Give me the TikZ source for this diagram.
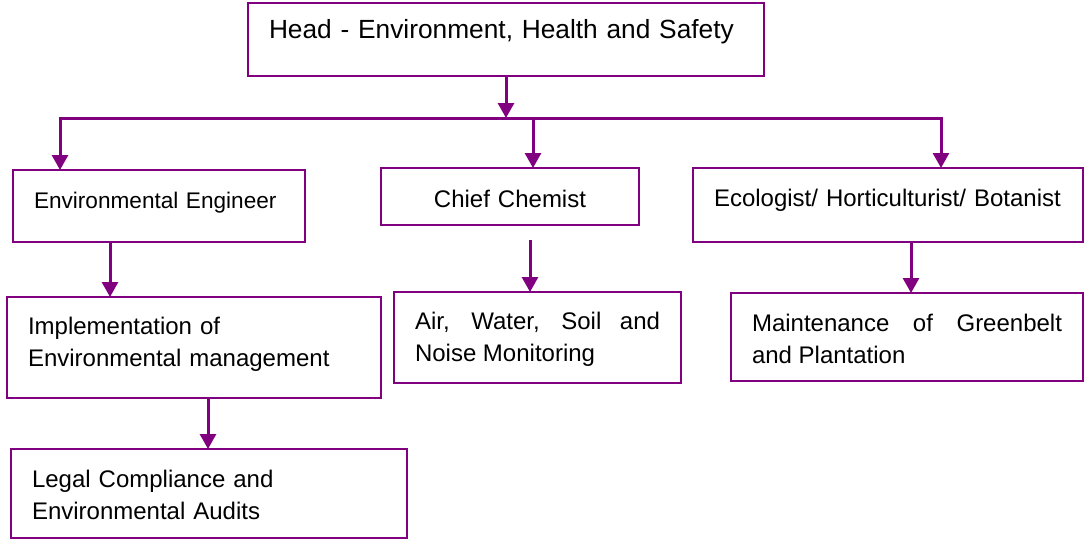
\documentclass[tikz,border=0pt]{standalone}
\usepackage{fontspec}
\setmainfont{Liberation Sans}
\usepackage{tikz}
\usetikzlibrary{calc}
\usetikzlibrary{arrows.meta}
\usepackage{xcolor}
\definecolor{chartPurple}{HTML}{800080}
\tikzset{
  orgbox/.style={draw=chartPurple, line width=2pt, fill=white,
    inner xsep=21pt, inner ysep=0pt, outer sep=0pt,
    anchor=north west, align=left,
    font=\fontsize{24}{32}\selectfont},
  link/.style={draw=chartPurple, line width=3pt,
    -{Triangle[width=16pt,length=15pt]}},
}

\begin{document}
\begin{tikzpicture}[x=1pt,y=-1pt]

%%%%%%%%%%%%%%%%%%%%%%%%%%%%%%%%%%%%%%%%%%%%%%%%%%%%%%%%%%%%%% Setup
\coordinate (C) at (0, 0);
% just to keep the page as large as the chart
\useasboundingbox ($(C)+(0,0)$) rectangle ($(C)+(1084,543)$);

%%%%%%%%%%%%%%%%%%%%%%%%%%%%%%%%%%%%%%%%%%%%%%%%%%%%%%%%%%%%%% Head
\node[orgbox, text width=474pt, text height=36pt, text depth=37pt,
  font=\fontsize{26.3}{32}\selectfont] (head) at ($(C)+(248,3)$)
  {Head - Environment, Health and Safety};

%%%%%%%%%%%%%%%%%%%%%%%%%%%%%%%%%%%%%%%%%%%%%%%%%%%%%%%%%%%%%% Row-1
\node[orgbox, text width=250pt, text height=38pt, text depth=34pt,
  font=\fontsize{22.6}{32}\selectfont] (eng) at ($(C)+(13,170)$)
  {Environmental Engineer};
\node[orgbox, text width=216pt, text height=39pt, text depth=18pt,
  align=center] (chief) at ($(C)+(381,168)$)
  {Chief Chemist};
\node[orgbox, text width=348pt, text height=38pt, text depth=36pt]
  (eco) at ($(C)+(693,168)$)
  {\mbox{Ecologist/ Horticulturist/ Botanist}};

%%%%%%%%%%%%%%%%%%%%%%%%%%%%%%%%%%%%%%%%%%%%%%%%%%%%%%%%%%%%%% Row-2
\node[orgbox, text width=332pt, text height=37pt, text depth=64pt] (impl)
  at ($(C)+(7,297)$)
  {Implementation of\\Environmental management};
\node[orgbox, text width=245pt, text height=37pt, text depth=54pt,
  align=justify] (air) at ($(C)+(394,292)$)
  {Air, Water, Soil and\linebreak Noise Monitoring};
\node[orgbox, text width=310pt, text height=38pt, text depth=50pt,
  align=justify] (maint) at ($(C)+(731,293)$)
  {Maintenance of Greenbelt\linebreak and Plantation};

%%%%%%%%%%%%%%%%%%%%%%%%%%%%%%%%%%%%%%%%%%%%%%%%%%%%%%%%%%%%%% Row-3
\node[orgbox, text width=354pt, text height=38pt, text depth=51pt] (legal)
  at ($(C)+(11,449)$)
  {Legal Compliance and\\Environmental Audits};

%%%%%%%%%%%%%%%%%%%%%%%%%%%%%%%%%%%%%%%%%%%%%%%%%%%%%%%%%%%%%% Links
\coordinate (busL) at ($(C)+(60,118)$);
\coordinate (busM) at ($(C)+(533,118)$);
\coordinate (busR) at ($(C)+(941,118)$);

\draw[link] (head.south) -- (head.south |- busL);
\draw[link] (busM) -- (busL) -- (busL |- eng.north);
\draw[link] (busM) -- (busM |- chief.north);
\draw[link] (busM) -- (busR) -- (busR |- eco.north);

\draw[link] ([xshift=-49pt]eng.south) -- ([xshift=-49pt]eng.south |- impl.north);
\draw[link] ([xshift=20pt,yshift=-15pt]chief.south) -- ([xshift=20pt]chief.south |- air.north);
\draw[link] ([xshift=23pt]eco.south) -- ([xshift=23pt]eco.south |- maint.north);
\draw[link] ([xshift=14pt]impl.south) -- ([xshift=14pt]impl.south |- legal.north);

\end{tikzpicture}
\end{document}
